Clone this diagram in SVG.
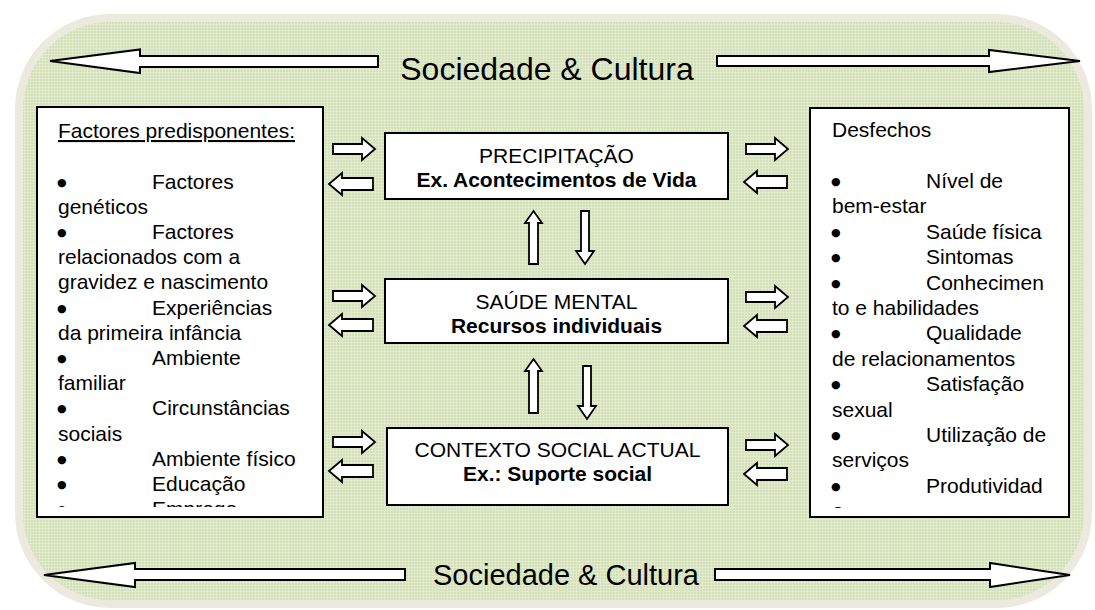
<svg xmlns="http://www.w3.org/2000/svg" width="1095" height="610" viewBox="0 0 1095 610">
<defs>
<pattern id="grid" width="3" height="3" patternUnits="userSpaceOnUse">
<rect width="3" height="3" fill="#D3E0B7"/>
<rect width="3" height="1" fill="#E1EACD"/>
<rect width="1" height="3" fill="#E1EACD"/>
</pattern>
<clipPath id="clipL"><rect x="37" y="107" width="286" height="400"/></clipPath>
<clipPath id="clipR"><rect x="810" y="108" width="259" height="400"/></clipPath>
<style>
.box{fill:#fff;stroke:#000;stroke-width:2}
.arr{fill:#fff;stroke:#000;stroke-width:2;stroke-linejoin:miter}
.sarr{fill:#fff;stroke:#000;stroke-width:1.8}
.t{font-family:"Liberation Sans",Arial,sans-serif;font-size:21px;fill:#000}
.bu{font-family:"DejaVu Sans",sans-serif;font-size:11px;fill:#000}
.c{text-anchor:middle}
.b{font-weight:bold}
.big{font-family:"Liberation Sans",Arial,sans-serif;fill:#000}
</style>
</defs>
<rect width="1095" height="610" fill="#fff"/>
<g id="frame">
<rect x="19" y="18" width="1069" height="586" rx="91" ry="91" fill="url(#grid)" stroke="#ECEADF" stroke-width="8"/>
</g>
<g id="connectors">
<polygon class="arr" points="50,61 140,49.5 140,56 378,56 378,67 140,67 140,73"/>
<polygon class="arr" points="717,56 989,56 989,50 1080,61 989,72 989,66 717,66"/>
<polygon class="arr" points="44,575 135,563 135,569 405,569 405,580 135,580 135,587"/>
<polygon class="arr" points="715,569 990,569 990,563 1070,575 990,587 990,580 715,580"/>
<polygon class="sarr" points="333,144 362,144 362,138 375,149 362,160 362,154 333,154"/>
<polygon class="sarr" points="333,291 362,291 362,285 375,296 362,307 362,301 333,301"/>
<polygon class="sarr" points="333,437 362,437 362,431 375,442 362,453 362,447 333,447"/>
<polygon class="sarr" points="329,184 342,173 342,178 373,178 373,190 342,190 342,195"/>
<polygon class="sarr" points="329,325 342,314 342,319 373,319 373,331 342,331 342,336"/>
<polygon class="sarr" points="329,471 342,460 342,465 373,465 373,477 342,477 342,482"/>
<polygon class="sarr" points="746,144 775,144 775,138 788,149 775,160 775,154 746,154"/>
<polygon class="sarr" points="746,292 775,292 775,286 788,297 775,308 775,302 746,302"/>
<polygon class="sarr" points="746,440 775,440 775,434 788,445 775,456 775,450 746,450"/>
<polygon class="sarr" points="744,182 757,171 757,176 787,176 787,188 757,188 757,193"/>
<polygon class="sarr" points="744,326 757,315 757,320 787,320 787,332 757,332 757,337"/>
<polygon class="sarr" points="744,474 757,463 757,468 787,468 787,480 757,480 757,485"/>
<polygon class="sarr" points="533.5,211 542,223 538,223 538,264 529,264 529,223 525,223"/>
<polygon class="sarr" points="533.5,359 542,371 538,371 538,413 529,413 529,371 525,371"/>
<polygon class="sarr" points="581,211 589,211 589,251 594,251 585,264 576,251 581,251"/>
<polygon class="sarr" points="583,366 591,366 591,406 596,406 587,419 578,406 583,406"/>
</g>
<g id="label-top">
<text class="big" x="547" y="80" font-size="32" text-anchor="middle">Sociedade &amp; Cultura</text>
</g>
<g id="label-bottom">
<text class="big" x="566" y="585" font-size="29" text-anchor="middle">Sociedade &amp; Cultura</text>
</g>
<g id="factores">
<rect class="box" x="37" y="107" width="286" height="410"/>
<g clip-path="url(#clipL)">
<text class="t" x="58" y="138" text-decoration="underline">Factores predisponentes:</text>
<text class="bu" x="57" y="185.5">●</text><text class="t" x="152" y="188.5">Factores</text>
<text class="t" x="58" y="213.7">genéticos</text>
<text class="bu" x="57" y="235.9">●</text><text class="t" x="152" y="238.9">Factores</text>
<text class="t" x="58" y="264.1">relacionados com a</text>
<text class="t" x="58" y="289.3">gravidez e nascimento</text>
<text class="bu" x="57" y="311.5">●</text><text class="t" x="152" y="314.5">Experiências</text>
<text class="t" x="58" y="339.7">da primeira infância</text>
<text class="bu" x="57" y="361.9">●</text><text class="t" x="152" y="364.9">Ambiente</text>
<text class="t" x="58" y="390.1">familiar</text>
<text class="bu" x="57" y="412.3">●</text><text class="t" x="152" y="415.3">Circunstâncias</text>
<text class="t" x="58" y="440.5">sociais</text>
<text class="bu" x="57" y="462.7">●</text><text class="t" x="152" y="465.7">Ambiente físico</text>
<text class="bu" x="57" y="487.9">●</text><text class="t" x="152" y="490.9">Educação</text>
<text class="bu" x="57" y="513.1">●</text><text class="t" x="152" y="516.1">Emprego</text>
</g>
</g>
<g id="precipitacao">
<rect class="box" x="385" y="133" width="343" height="66"/>
<text class="t c" x="556.5" y="163">PRECIPITAÇÃO</text>
<text class="t c b" x="556.5" y="187">Ex. Acontecimentos de Vida</text>
</g>
<g id="saude-mental">
<rect class="box" x="385" y="279" width="343" height="64"/>
<text class="t c" x="556.5" y="309">SAÚDE MENTAL</text>
<text class="t c b" x="556.5" y="333">Recursos individuais</text>
</g>
<g id="contexto">
<rect class="box" x="387" y="428" width="341" height="77"/>
<text class="t c" x="557.5" y="457">CONTEXTO SOCIAL ACTUAL</text>
<text class="t c b" x="557.5" y="481">Ex.: Suporte social</text>
</g>
<g id="desfechos">
<rect class="box" x="810" y="108" width="259" height="409"/>
<g clip-path="url(#clipR)">
<text class="t" x="832" y="137">Desfechos</text>
<text class="bu" x="831" y="185">●</text><text class="t" x="926" y="188">Nível de</text>
<text class="t" x="832" y="213.4">bem-estar</text>
<text class="bu" x="831" y="235.8">●</text><text class="t" x="926" y="238.8">Saúde física</text>
<text class="bu" x="831" y="261.2">●</text><text class="t" x="926" y="264.2">Sintomas</text>
<text class="bu" x="831" y="286.6">●</text><text class="t" x="926" y="289.6">Conhecimen</text>
<text class="t" x="832" y="315">to e habilidades</text>
<text class="bu" x="831" y="337.4">●</text><text class="t" x="926" y="340.4">Qualidade</text>
<text class="t" x="832" y="365.8">de relacionamentos</text>
<text class="bu" x="831" y="388.2">●</text><text class="t" x="926" y="391.2">Satisfação</text>
<text class="t" x="832" y="416.6">sexual</text>
<text class="bu" x="831" y="439">●</text><text class="t" x="926" y="442">Utilização de</text>
<text class="t" x="832" y="467.4">serviços</text>
<text class="bu" x="831" y="489.8">●</text><text class="t" x="926" y="492.8">Produtividad</text>
<text class="t" x="832" y="518.2">e</text>
</g>
</g>
</svg>
